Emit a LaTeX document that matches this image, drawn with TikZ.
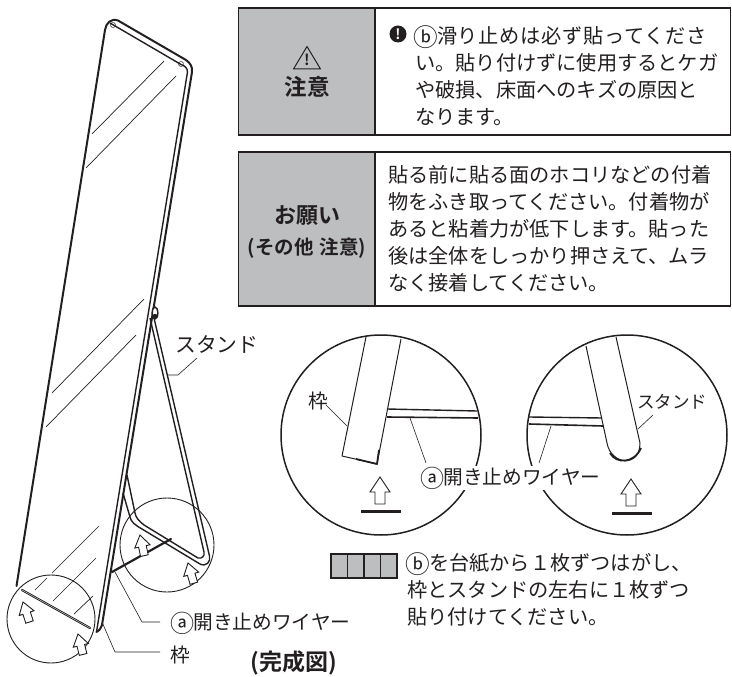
\documentclass[tikz,border=0pt]{standalone}
\usepackage{graphicx}
\usepackage{fontspec}
\setmainfont{Noto Sans CJK JP}
\newfontfamily\boldcjk{Noto Sans CJK JP Bold}
\usetikzlibrary{calc, positioning}
\definecolor{boxgray}{RGB}{188,190,192}
\definecolor{inkgray}{RGB}{35,31,32}
\newcommand{\rnd}[1]{\makebox[1.08em]{\raisebox{-0.12em}{\scalebox{1.22}{#1}}}}
\tikzset{
  % Callout leader style
  lead/.style={
    line width = 0.6pt, draw=inkgray
  },
  % Mirror and stand lines
  frm/.style={
    line width = 1.4pt, draw=inkgray, line join=round
  },
  thn/.style={
    line width = 0.7pt, draw=inkgray
  },
  thk/.style={
    line width = 2.2pt, draw=inkgray, line cap=round
  },
  lens/.style={
    line width = 0.9pt, draw=inkgray, circle, inner sep=0pt
  },
  big lens/.style={
    line width = 1.5pt, draw=inkgray, circle, inner sep=0pt, minimum size=200pt
  },
  uparr/.style={
    line width = 0.9pt, draw=inkgray, fill=white, line join=miter
  },
  tgray/.style={
    fill=boxgray, draw=inkgray, line width=1.7pt
  },
  tbody/.style={
    draw=inkgray, line width=1.7pt, fill=white
  },
  txt/.style={
    font=\fontsize{20.2}{27}\selectfont, text=inkgray, inner sep=0pt, align=left, anchor=north west
  },
  lbl/.style={
    font=\fontsize{19.7}{22}\selectfont, text=inkgray, inner sep=0pt, anchor=west
  },
  pics/liftarr/.style={
    code={
      \path[uparr] (0,0) -- (10,15) -- (5,15) -- (5,27) -- (-5,27) -- (-5,15) -- (-10,15) -- cycle;
    }
  },
}
\begin{document}
\begin{tikzpicture}[x=1pt,y=-1pt]
  \useasboundingbox (0,0) rectangle (732,677);

  % top boxes
  \path[tgray] (238.5,8) rectangle (375,135);
  \path[tbody] (375,8) rectangle (730.5,135);
  \path[tgray] (238.5,152) rectangle (375,306);
  \path[tbody] (375,152) rectangle (730.5,306);

  \node (warnicon) [inner sep=0pt, font=\boldcjk\fontsize{15}{15}\selectfont, text=inkgray] at (307,60) {!};
  \draw[line width=1pt, draw=inkgray, line join=round] (293.5,69) -- (307,46.5) -- (320.5,69) -- cycle;
  \node (warnlbl) [font=\boldcjk\fontsize{22.5}{25}\selectfont, text=inkgray, inner sep=0pt] at (307,87) {注意};
  \node (reqlbl) [font=\boldcjk\fontsize{22}{22}\selectfont, text=inkgray, inner sep=0pt] at (307,216) {お願い};
  \node (reqsub) [font=\boldcjk\fontsize{19.5}{22}\selectfont, text=inkgray, inner sep=0pt] at (307,248) {(その他\hspace{0.3em}注意)};

  \node (warnmark) [circle, fill=inkgray, text=white, inner sep=0pt, minimum size=17pt
                   , font=\boldcjk\fontsize{14}{14}\selectfont] at (398,34) {!};
  \node (warntxt) [txt] at (415,25) {{\addfontfeatures{LetterSpace=3.5}\rnd{ⓑ}滑り止めは必ず貼ってくださ}\\い。貼り付けずに使用するとケガ\\や破損、床面へのキズの原因と\\なります。};
  \node (reqtxt) [txt] at (388,165) {貼る前に貼る面のホコリなどの付着\\物をふき取ってください。付着物が\\あると粘着力が低下します。貼った\\後は全体をしっかり押さえて、ムラ\\なく接着してください。};

  % mirror outline
  \draw[frm, line width=2pt, line cap=round] (16.5,586) -- (105,30) .. controls (106,23) and (111,18) .. (118,20.5)
        -- (186,60) .. controls (190,63) and (192.5,66) .. (192,72)
        -- (102,625) .. controls (101,628) and (100,630) .. (96.5,632);
  \draw[frm] (110,23) -- (181,64.5) .. controls (185,66) and (187.5,68) .. (187.5,72) -- (96.5,632);
  \draw[frm, line width=0.5pt] (113,25) circle (2.5);
  \draw[frm, line width=0.5pt] (181,64) circle (2.5);

  % glints
  \draw[thn] (92,134) -- (164,61);
  \draw[thn] (86,168) -- (176,76);
  \draw[thn] (52,393) -- (144,299);
  \draw[thn] (46,427) -- (136,335);
  \draw[thn] (99,526) -- (52,573);
  \draw[thn] (47,578) -- (35,590);
  \draw[thn] (96,558) -- (53,601);
  \draw[thn] (93,596) -- (74,614);

  % stand
  \draw[frm] (150,318) -- (204,552) .. controls (205,556) and (202,559) .. (198,558)
        -- (144,525) .. controls (139,521) and (136,518) .. (135,513) -- (127,475);
  \draw[frm] (154,318) -- (209.5,556) .. controls (211,562) and (206,567) .. (200,564)
        -- (142,529) .. controls (135,525) and (131,522) .. (130,517) -- (123,493);
  \draw[frm, line width=1.5pt, fill=white] (155,313) ellipse (2.8 and 6);
  \fill[inkgray] (155,316) circle (2.2);

  % lower detail circles on the mirror
  \node (lensb) [lens, minimum size=94pt] at (167,545) {};
  \node (lensa) [lens, minimum size=88pt] at (51,619) {};

  % wire and foot of the frame
  \coordinate (wirept) at (115,572);
  \coordinate (footpt) at (102,622);
  \draw[thk] (112,572) -- (171,539);
  \draw[thk] (22,590) -- (90,628);
  \draw[white, line width=0.3pt] (22,590) -- (90,628);

  \pic[rotate=18, scale=0.78] at (23,602) {liftarr};
  \pic[rotate=14, scale=0.78] at (78,634) {liftarr};
  \pic[rotate=12, scale=0.78] at (140,535) {liftarr};
  \pic[rotate=16, scale=0.78] at (188,563) {liftarr};

  % labels of the main figure
  \node (standlbl) [lbl, font=\fontsize{20.8}{22}\selectfont] at (175,344) {スタンド};
  \node (wirelbl) [lbl] at (172,623) {\rnd{ⓐ}開き止めワイヤー};
  \node (framelbl) [lbl] at (170,655) {枠};
  \node (donelbl) [inner sep=0pt, font=\boldcjk\fontsize{23}{24}\selectfont, text=inkgray] at (294,663) {(完成図)};

  \coordinate (standpt) at (168,375);
  \coordinate (wireend) at (160,622);
  \coordinate (frameend) at (160,652);
  \draw[lead] (standpt) -- (178,375) -- (197,358);
  \draw[lead] (wirept) -- (142,622) -- (wireend);
  \draw[lead] (footpt) -- (115,652) -- (frameend);

  % left detail
  \node (detaila) [big lens] at (381,435) {};
  \draw[frm, line width=1pt] (366,337) -- (342,456) -- (377,464) -- (401,339);
  \draw[frm, line width=1.8pt] (356,459) -- (377,464) -- (379,450);
  \draw[frm] (387,409) -- (477,411);
  \draw[frm, line width=1.6pt] (387,417) -- (478,418);
  \node (dframelbl) [lbl] at (308,401) {枠};
  \coordinate (dframept) at (347,426);
  \draw[lead] (326,405) -- (dframept);
  \coordinate (dwirept) at (410,418);
  \pic at (380,477) {liftarr};
  \draw[inkgray, line width=3pt] (361,511) -- (401,511);

  % right detail
  \node (detailb) [big lens] at (627,435) {};
  \draw[frm, line width=1pt] (586,346) -- (607,443) .. controls (611,465) and (640,468) .. (640,443) -- (616,337);
  \draw[frm, line width=1.8pt] (610,453) .. controls (616,464) and (634,464) .. (641,448);
  \draw[frm] (529,417) -- (602,418);
  \draw[frm, line width=1.6pt] (529,424) -- (603,426);
  \node (dstandlbl) [lbl, font=\fontsize{17.5}{20}\selectfont] at (637,402) {スタンド};
  \coordinate (dstandpt) at (638,429);
  \draw[lead] (653,415) -- (dstandpt);
  \coordinate (dwireptb) at (551,426);
  \pic at (631,479) {liftarr};
  \draw[inkgray, line width=3pt] (612,513) -- (652,513);

  % shared wire label sits over both circles
  \node (dwirelbl) [lbl, fill=white, inner xsep=1pt, inner ysep=1pt] at (421,478) {\rnd{ⓐ}開き止めワイヤー};
  \draw[lead] (dwirept) -- (426,463);
  \draw[lead] (dwireptb) -- (539,463);

  % sticker strip
  \foreach \i in {0,1,2,3} {
    \path[fill=boxgray, draw=inkgray, line width=1.8pt] ({331+\i*16.5},554) rectangle ++(16.5,24);
  }
  \node (striptxt) [txt] at (407,552) {\rnd{ⓑ}を台紙から１枚ずつはがし、\\枠とスタンドの左右に１枚ずつ\\貼り付けてください。};
\end{tikzpicture}
\end{document}
